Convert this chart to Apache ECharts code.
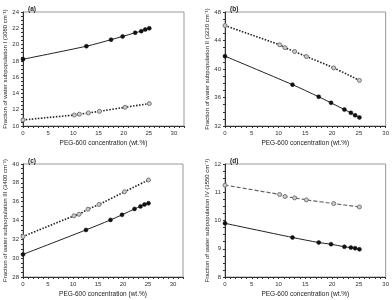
<!DOCTYPE html>
<html><head><meta charset="utf-8">
<script src="https://cdn.jsdelivr.net/npm/echarts@6/dist/echarts.min.js"></script>
<style>html,body{margin:0;padding:0;background:#fff}#c{width:392px;height:300px}</style>
</head><body><div id="c"></div>
<script>
const xSolid = [0, 12.6, 17.5, 19.8, 22.3, 23.5, 24.3, 25.1];
const xOpen  = [0, 10.2, 11.2, 13.0, 15.2, 20.3, 25.1];

const aSolid = [18.2, 19.8, 20.6, 21.0, 21.45, 21.65, 21.85, 22.0];
const aOpen  = [10.75, 11.35, 11.45, 11.6, 11.8, 12.3, 12.75];
const bSolid = [41.8, 37.8, 36.1, 35.25, 34.3, 33.85, 33.5, 33.2];
const bOpen  = [46.1, 43.4, 43.0, 42.45, 41.75, 40.15, 38.4];
const cSolid = [30.4, 33.0, 34.06, 34.6, 35.23, 35.5, 35.7, 35.83];
const cOpen  = [32.3, 34.5, 34.66, 35.2, 35.7, 37.05, 38.3];
const dSolid = [9.9, 9.4, 9.22, 9.16, 9.07, 9.04, 9.02, 8.98];
const dOpen  = [11.25, 10.92, 10.85, 10.8, 10.73, 10.6, 10.48];

const panelLabels = ['(a)', '(b)', '(c)', '(d)'];
const yTitles = [
  'Fraction of water subpopulation I (3080 cm\u207B\u00B9)',
  'Fraction of water subpopulation II (3230 cm\u207B\u00B9)',
  'Fraction of water subpopulation III (3400 cm\u207B\u00B9)',
  'Fraction of water subpopulation IV (3550 cm\u207B\u00B9)'
];
const xTitle = 'PEG-600 concentration (wt.%)';
const yRanges = [[10, 24, 2], [32, 48, 4], [28, 40, 2], [8, 12, 1]];
const xMax = [32, 30, 32, 30];

const grids = [
  {left: 23, top: 12, width: 161, height: 114},
  {left: 225, top: 12, width: 161, height: 114},
  {left: 23, top: 164, width: 160, height: 113},
  {left: 225, top: 164, width: 161, height: 113}
];

const FONT = 'Liberation Sans';
const pair = (xs, ys) => xs.map((x, i) => [x, ys[i]]);
const solids = [aSolid, bSolid, cSolid, dSolid];
const opens = [aOpen, bOpen, cOpen, dOpen];

const option = {
  animation: false,
  backgroundColor: '#fff',
  textStyle: {fontFamily: FONT},
  grid: grids.map(g => Object.assign({show: true, borderColor: '#999', borderWidth: 1, backgroundColor: '#fff'}, g)),
  title: panelLabels.map((t, i) => ({
    text: t, left: grids[i].left, top: grids[i].top - 11,
    textStyle: {fontSize: 6.5, fontWeight: 'bold', color: '#222', fontFamily: FONT}
  })),
  xAxis: grids.map((g, i) => ({
    type: 'value', gridIndex: i, min: 0, max: xMax[i], interval: 5,
    name: xTitle, nameLocation: 'middle', nameGap: 14,
    nameTextStyle: {fontSize: 6.5, color: '#222', fontFamily: FONT},
    axisLine: {show: true, onZero: false, lineStyle: {color: '#333', width: 1}},
    axisTick: {show: true, length: 2, lineStyle: {color: '#333'}},
    minorTick: {show: true, splitNumber: 5, length: 2, lineStyle: {color: '#333'}},
    axisLabel: {fontSize: 6, color: '#333', margin: 4, fontFamily: FONT,
      formatter: v => (v % 5 === 0 && v <= 30) ? String(v) : ''},
    splitLine: {show: false}
  })),
  yAxis: grids.map((g, i) => ({
    type: 'value', gridIndex: i, min: yRanges[i][0], max: yRanges[i][1], interval: yRanges[i][2],
    name: yTitles[i], nameLocation: 'middle', nameGap: 15, nameRotate: 90,
    nameTextStyle: {fontSize: 6, color: '#222', fontFamily: FONT},
    axisLine: {show: true, onZero: false, lineStyle: {color: '#333', width: 1}},
    axisTick: {show: true, length: 2, lineStyle: {color: '#333'}},
    minorTick: {show: true, splitNumber: 4, length: 2, lineStyle: {color: '#333'}},
    axisLabel: {fontSize: 6, color: '#333', margin: 4, fontFamily: FONT},
    splitLine: {show: false}
  })),
  series: []
};

for (let i = 0; i < 4; i++) {
  option.series.push({
    type: 'line', xAxisIndex: i, yAxisIndex: i, smooth: 0.3,
    data: pair(xOpen, opens[i]),
    symbol: 'circle', symbolSize: 4,
    lineStyle: i === 3 ? {color: '#666', width: 1.2, type: [4, 2]} : {color: '#222', width: 1.6, type: [1.5, 1.5]},
    itemStyle: {color: '#ccc', borderColor: '#777', borderWidth: 1},
    z: 3
  });
  option.series.push({
    type: 'line', xAxisIndex: i, yAxisIndex: i, smooth: 0.3,
    data: pair(xSolid, solids[i]),
    symbol: 'circle', symbolSize: 4,
    lineStyle: {color: '#222', width: 1},
    itemStyle: {color: '#111', borderColor: '#111', borderWidth: 0.5},
    z: 4
  });
}

const chart = echarts.init(document.getElementById('c'), null, {renderer: 'canvas'});
chart.setOption(option);
</script></body></html>
